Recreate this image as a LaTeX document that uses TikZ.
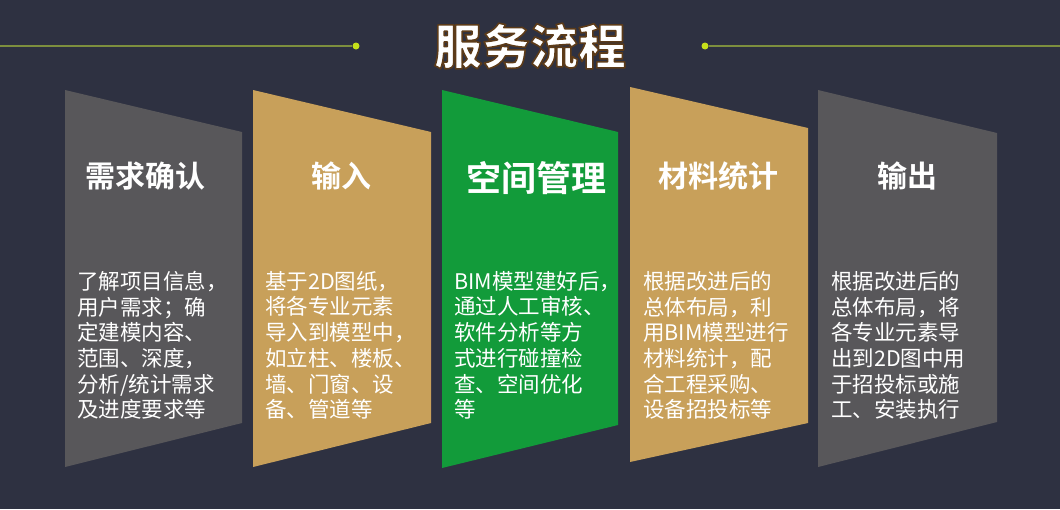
\documentclass[tikz,border=0pt]{standalone}
\usepackage{fontspec}
\newfontfamily\cjk{Noto Sans CJK SC}[BoldFont={Noto Sans CJK SC Bold}]
\newfontfamily\cjkblack{Noto Sans CJK SC Black}
\definecolor{bg}{HTML}{2E3141}
\definecolor{pgray}{HTML}{58575A}
\definecolor{pgold}{HTML}{C8A05A}
\definecolor{pgreen}{HTML}{129B3A}
\definecolor{lineol}{HTML}{7D8F3E}
\definecolor{dotyel}{HTML}{C6E01A}
\newcommand\outlinedtext[1]{\special{pdf:code q 2 Tr 1.6 w 1 j 0.36 0.23 0.10 RG}#1\special{pdf:code Q}}
\tikzset{
  head/.style={text=white,font=\cjk\bfseries\fontsize{30}{34}\selectfont,inner sep=0pt,anchor=center},
  body/.style={text=white,font=\cjk\fontsize{21.5}{25.7}\selectfont,align=left,inner sep=0pt,anchor=north west},
  ttl/.style={font=\cjkblack\fontsize{48}{52}\selectfont,inner sep=0pt,anchor=center},
  hline/.style={draw=lineol,line width=2pt},
  dot/.style={circle,fill=dotyel,inner sep=0pt,minimum size=7pt}
}
\begin{document}
\begin{tikzpicture}[x=1pt,y=-1pt]
\useasboundingbox (0,0) rectangle (1060,509);
\fill[bg] (0,0) rectangle (1060,509);
% title lines
\node[dot] (dl) at (356,46) {};
\node[dot] (dr) at (705,46) {};
\coordinate (le) at (0,46);
\coordinate (re) at (1060,46);
\draw[hline] (le) -- (dl);
\draw[hline] (dr) -- (re);
% title with outline
\node[ttl,text=white] (title) at (530,46) {\outlinedtext{服务流程}};
% panels
\fill[pgray] (65,90) -- (242,132) -- (242,423) -- (65,467) -- cycle;
\fill[pgold] (253,90) -- (431,132) -- (431,423) -- (253,467) -- cycle;
\fill[pgreen] (442,90) -- (618,132) -- (618,425) -- (442,468) -- cycle;
\fill[pgold] (630,87) -- (808,128) -- (808,423) -- (630,462) -- cycle;
\fill[pgray] (818,90) -- (997,133) -- (997,422) -- (818,467) -- cycle;
% headings
\node[head] (h1) at (145,176) {需求确认};
\node[head] (h2) at (341,176) {输入};
\node[head,font=\cjk\bfseries\fontsize{35}{38}\selectfont] (h3) at (536,178) {空间管理};
\node[head] (h4) at (718,176) {材料统计};
\node[head] (h5) at (907,176) {输出};
% bodies
\node[body] (b1) at (77,271) {了解项目信息，\\用户需求；确\\定建模内容、\\范围、深度，\\分析/统计需求\\及进度要求等};
\node[body] (b2) at (265,271) {基于2D图纸，\\将各专业元素\\导入到模型中，\\如立柱、楼板、\\墙、门窗、设\\备、管道等};
\node[body] (b3) at (454,271) {BIM模型建好后，\\通过人工审核、\\软件分析等方\\式进行碰撞检\\查、空间优化\\等};
\node[body] (b4) at (643,271) {根据改进后的\\总体布局，利\\用BIM模型进行\\材料统计，配\\合工程采购、\\设备招投标等};
\node[body] (b5) at (831,271) {根据改进后的\\总体布局，将\\各专业元素导\\出到2D图中用\\于招投标或施\\工、安装执行};
\end{tikzpicture}
\end{document}
